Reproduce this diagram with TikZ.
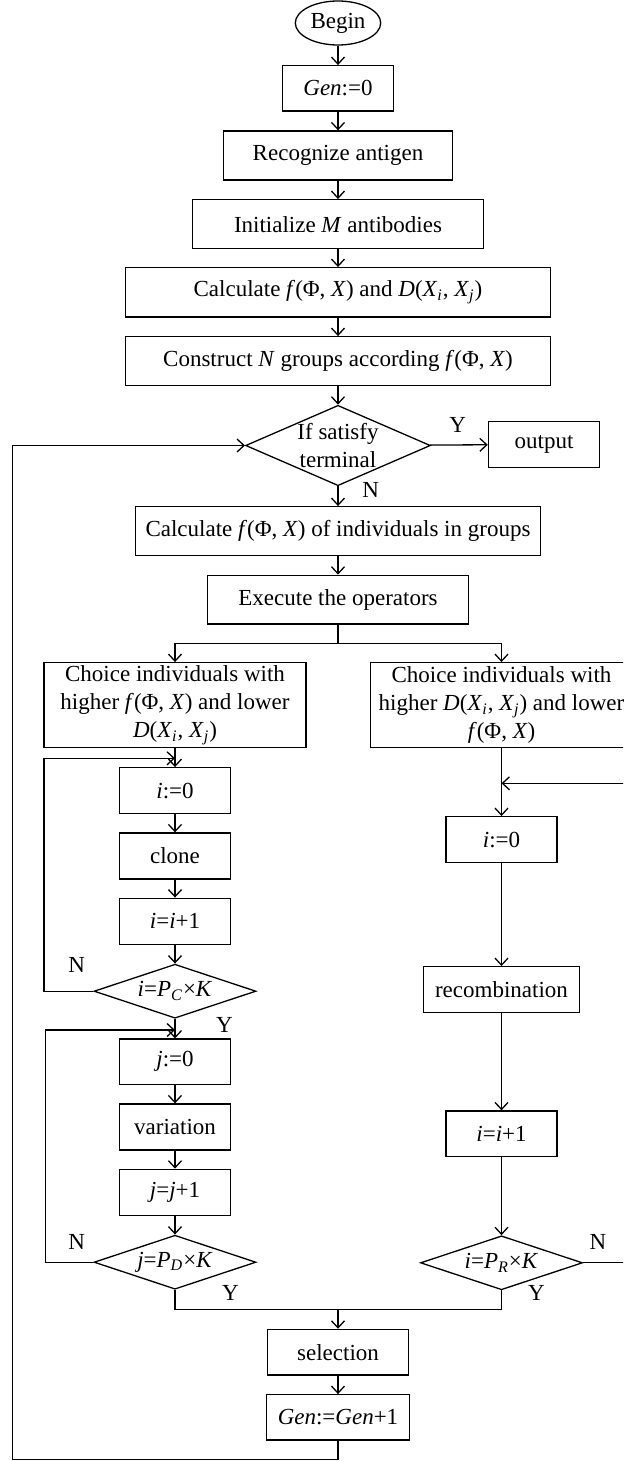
\documentclass[tikz,border=0pt]{standalone}
\usepackage{fontspec}
\setmainfont{Liberation Serif}
\usetikzlibrary{arrows.meta,shapes.geometric}
\newcommand{\fphi}{\textit{f}(Φ, \textit{X})}
\newcommand{\dij}{\textit{D}(\textit{X}\textsubscript{\textit{i}}, \textit{X}\textsubscript{\textit{j}})}

\begin{document}
\begin{tikzpicture}[x=0.5pt,y=-0.5pt,line width=0.65pt,>={Straight Barb[length=3.5pt,width=6.5pt]},every node/.style={font=\fontsize{11.5}{14}\selectfont},bloc/.style={draw,rectangle,inner sep=0pt,align=center,minimum height=23pt},test/.style={draw,diamond,aspect=3,inner sep=0pt,align=center,minimum width=81pt,minimum height=27pt},debut/.style={draw,ellipse,inner sep=0pt,minimum width=42.7pt,minimum height=22pt},rep/.style={inner sep=0pt}]
\useasboundingbox (0,0) rectangle (623,1461);
\clip (0,0) rectangle (623,1461);
\node[debut] (begin) at (338,23) {Begin};
\node[bloc,minimum width=55.6pt,minimum height=22.6pt] (gen) at (338,88.3) {\textit{Gen}:=0};
\node[bloc,minimum width=114.4pt,minimum height=24.5pt] (antigen) at (338,155.5) {Recognize antigen};
\node[bloc,minimum width=145.4pt,minimum height=24.5pt] (init) at (338,224.2) {Initialize \textit{M} antibodies};
\node[bloc,minimum width=212.4pt,minimum height=24.6pt] (calc) at (338,292.3) {Calculate \fphi{} and \dij};
\node[bloc,minimum width=212.4pt,minimum height=24.5pt] (groups) at (338,361.2) {Construct \textit{N} groups according \fphi};
\node[test,aspect=2.3,inner sep=-2pt,minimum width=92.4pt,minimum height=40.2pt] (term) at (338,445.5) {If satisfy\\terminal};
\node[bloc,minimum width=55.6pt,minimum height=22.8pt] (output) at (544,444.5) {output};
\node[bloc,minimum width=202.4pt,minimum height=24.5pt] (indiv) at (338,531.2) {Calculate \fphi{} of individuals in groups};
\node[bloc,minimum width=130.5pt,minimum height=24.4pt] (exec) at (338,599.7) {Execute the operators};
\node[bloc,minimum width=130.9pt,minimum height=42.5pt] (choixL) at (175,705.2) {Choice individuals with\\higher \fphi{} and lower\\\dij};
\node[bloc,minimum width=131pt,minimum height=42.5pt] (choixR) at (501.5,705.2) {Choice individuals with\\higher \dij{} and lower\\\fphi};
\node[bloc,minimum width=55.4pt] (i0) at (175,790.7) {\textit{i}:=0};
\node[bloc,minimum width=55.4pt] (clone) at (175,856) {clone};
\node[bloc,minimum width=55.4pt] (iinc) at (175,921.2) {\textit{i}=\textit{i}+1};
\node[test] (testC) at (175,991.2) {\textit{i}=\textit{P}\textsubscript{\textit{C}}×\textit{K}};
\node[bloc,minimum width=55.4pt,minimum height=22.6pt] (j0) at (175,1061.7) {\textit{j}:=0};
\node[bloc,minimum width=55.4pt] (variation) at (175,1127) {variation};
\node[bloc,minimum width=55.4pt] (jinc) at (175,1192.3) {\textit{j}=\textit{j}+1};
\node[test] (testD) at (175,1262.2) {\textit{j}=\textit{P}\textsubscript{\textit{D}}×\textit{K}};
\node[bloc,minimum width=55.6pt] (r0) at (501.5,839.7) {\textit{i}:=0};
\node[bloc,minimum width=77.9pt] (recomb) at (501.5,989.7) {recombination};
\node[bloc,minimum width=55.6pt,minimum height=22.8pt] (rinc) at (501.5,1133.8) {\textit{i}=\textit{i}+1};
\node[test] (testR) at (501.5,1262.8) {\textit{i}=\textit{P}\textsubscript{\textit{R}}×\textit{K}};
\node[bloc,minimum width=70.2pt,minimum height=22.8pt] (selection) at (338,1352.2) {selection};
\node[bloc,minimum width=71.7pt,minimum height=22.6pt] (genplus) at (338,1417.3) {\textit{Gen}:=\textit{Gen}+1};
\node[rep] (yout) at (457.7,425) {Y};
\node[rep] (nterm) at (370.7,490) {N};
\node[rep] (nC) at (76.7,965) {N};
\node[rep] (yC) at (224.5,1025) {Y};
\node[rep] (nD) at (76.7,1241.7) {N};
\node[rep] (yD) at (230.4,1293.3) {Y};
\node[rep] (nR) at (597.9,1241.7) {N};
\node[rep] (yR) at (536.3,1293.3) {Y};
\coordinate (branche) at (338,643.3);
\coordinate (fusion) at (338,1309.3);
\coordinate (boucleC) at (44.1,758.3);
\coordinate (retourC) at (175,758.3);
\coordinate (boucleD) at (45.7,1030);
\coordinate (retourD) at (175,1030);
\coordinate (boucleR) at (632,783.3);
\coordinate (retourR) at (501.5,783.3);
\coordinate (bas) at (338,1459.3);
\coordinate (coin) at (12.7,1459.3);
\draw[->] (begin)--(gen);
\draw[->] (gen)--(antigen);
\draw[->] (antigen)--(init);
\draw[->] (init)--(calc);
\draw[->] (calc)--(groups);
\draw[->] (groups)--(term);
\draw[->] (term)--(output);
\draw[->] (term)--(indiv);
\draw[->] (indiv)--(exec);
\draw (exec)--(branche);
\draw[->] (branche)-|(choixL);
\draw[->] (branche)-|(choixR);
\draw[->] (choixL)--(i0);
\draw[->] (i0)--(clone);
\draw[->] (clone)--(iinc);
\draw[->] (iinc)--(testC);
\draw[->] (testC)-|(boucleC)--(retourC);
\draw[->] (testC)--(j0);
\draw[->] (j0)--(variation);
\draw[->] (variation)--(jinc);
\draw[->] (jinc)--(testD);
\draw[->] (testD)-|(boucleD)--(retourD);
\draw[->] (choixR)--(r0);
\draw[->] (r0)--(recomb);
\draw[->] (recomb)--(rinc);
\draw[->] (rinc)--(testR);
\draw[->] (testR)-|(boucleR)--(retourR);
\draw (testD)|-(fusion);
\draw (testR)|-(fusion);
\draw[->] (fusion)--(selection);
\draw[->] (selection)--(genplus);
\draw[->] (genplus)--(bas)--(coin)|-(term);
\end{tikzpicture}
\end{document}
